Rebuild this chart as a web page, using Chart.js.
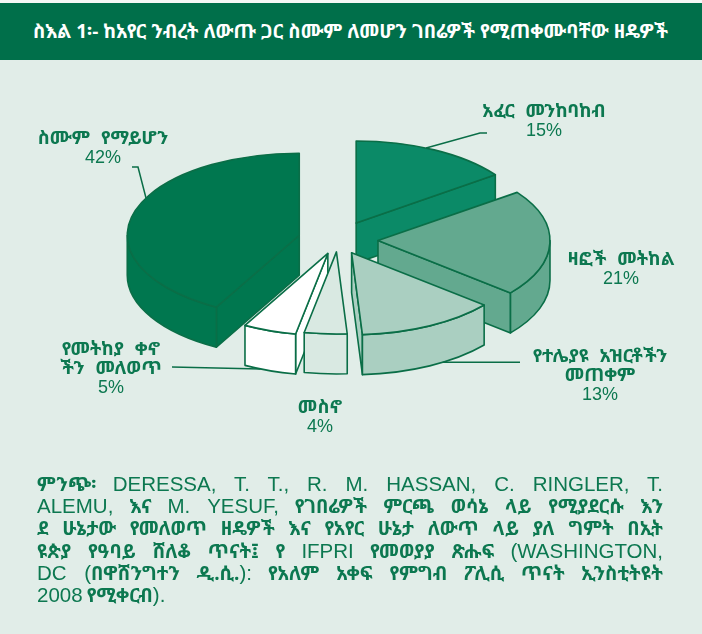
<!DOCTYPE html>
<html>
<head>
<meta charset="utf-8">
<script src="https://cdn.jsdelivr.net/npm/chart.js@4.4.1/dist/chart.umd.min.js"></script>
<style>
  html, body { margin: 0; padding: 0; }
  body { width: 702px; height: 634px; background: #e1ede8; position: relative; overflow: hidden;
         font-family: "Noto Sans Ethiopic", "Abyssinica SIL", "DejaVu Sans", "Liberation Sans", sans-serif; }
  #topline { position: absolute; left: 0; top: 0; width: 702px; height: 3px; background: #f4f8f6; }
  #title { position: absolute; left: 0; top: 3px; width: 702px; height: 57px; background: #006f4a; }
  #titletext { position: absolute; left: 33px; top: 0; color: #ffffff; font-weight: bold; font-size: 19px;
               line-height: 57px; white-space: nowrap; }
  #chart { position: absolute; left: 0; top: 0; }
  #source { position: absolute; left: 37px; top: 473px; width: 626px; color: #0c7850; }
  #source div { height: 22.2px; line-height: 22.2px; text-align: justify; text-align-last: justify; white-space: nowrap; }
  #source div.last { text-align-last: left; }
  #source .lat { font-family: "Liberation Sans", "Noto Sans", sans-serif; font-size: 20.5px; }
  #source .eth { font-weight: bold; font-size: 19px; }
</style>
</head>
<body>
<div id="topline"></div>
<div id="title"><span id="titletext">ስእል 1፡- ከአየር ንብረት ለውጡ ጋር ስሙም ለመሆን ገበሬዎች የሚጠቀሙባቸው ዘዴዎች</span></div>
<canvas id="chart" width="702" height="634"></canvas>
<div id="source">
  <div><span class="eth">ምንጭ፡</span> <span class="lat">DERESSA, T. T., R. M. HASSAN, C. RINGLER, T.</span></div>
  <div><span class="lat">ALEMU,</span> <span class="eth">እና</span> <span class="lat">M. YESUF,</span> <span class="eth">የገበሬዎች ምርጫ ወሳኔ ላይ የሚያደርሱ እን</span></div>
  <div><span class="eth">ደ ሁኔታው የመለወጥ ዘዴዎች እና የአየር ሁኔታ ለውጥ ላይ ያለ ግምት በኢት</span></div>
  <div><span class="eth">ዩጵያ የዓባይ ሸለቆ ጥናት፤ የ</span> <span class="lat">IFPRI</span> <span class="eth">የመወያያ ጽሑፍ</span> <span class="lat">(WASHINGTON,</span></div>
  <div><span class="lat">DC (</span><span class="eth">በዋሸንግተን ዲ.ሲ.</span><span class="lat">):</span> <span class="eth">የአለም አቀፍ የምግብ ፖሊሲ ጥናት ኢንስቲትዩት</span></div>
  <div class="last"><span class="lat">2008</span> <span class="eth">የሚቀርብ</span><span class="lat">).</span></div>
</div>
<script>
// ---- data ----
const categories = ["አፈር መንከባከብ", "ዛፎች መትከል", "የተሌያዩ አዝርቶችን|መጠቀም", "መስኖ", "የመትከያ ቀኖ|ችን መለወጥ", "ስሙም የማይሆን"];
const values = [15, 21, 13, 4, 5, 42];
const sliceColors = ["#0b8a67", "#63a98f", "#aacfc1", "#d9e9e2", "#ffffff", "#00774f"];

// ---- styling / layout ----
const EDGE = "#0a6e47";
const TEXT = "#0c7850";
const K = 0.477;      // vertical flattening of the 3D pie
const DEPTH = 40;     // extrusion height in px
const EXPLODE = [40, 40, 30, 25, 30, 40];
// label anchor (text centre); leader: [angle deg on slice, dz, elbow points, horizontalTo]
const LABELS = [
  { x: 544, y: 112, leader: { a: -66, dz: 0, pts: [[480, 133], [487, 133]] } },
  { x: 621, y: 260, leader: null },
  { x: 600, y: 357, leader: { a: 58, dz: 40, hTo: 520 } },
  { x: 320, y: 408, leader: null },
  { x: 111, y: 350, leader: { a: 113, dz: 40, pts: [[172, 367]] } },
  { x: 103, y: 139, leader: { a: 207, dz: 0, pts: [[138, 167], [132, 167]] } }
];
const LINE_H = 18.5;

// fit the title to the width of the reference banner
(function () {
  const t = document.getElementById('titletext');
  const target = 635;
  const n = t.textContent.length;
  const w = t.getBoundingClientRect().width;
  t.style.letterSpacing = ((target - w) / n) + 'px';
})();

function geom(a, i) {
  const p = a.getProps(['x', 'y', 'startAngle', 'endAngle', 'outerRadius'], true);
  const h = (p.startAngle + p.endAngle) / 2;
  const t = EXPLODE[i];
  return { ...p, h, ox: Math.cos(h) * t, oy: Math.sin(h) * t * K };
}
function pt(g, th, dz) {
  return [g.x + g.ox + g.outerRadius * Math.cos(th), g.y + g.oy + g.outerRadius * Math.sin(th) * K + dz];
}

const pie3d = {
  id: 'pie3d',
  beforeDatasetsDraw(chart) {
    const ctx = chart.ctx;
    const arcs = chart.getDatasetMeta(0).data;
    const order = arcs.map((a, i) => i).sort((p, q) => Math.sin(geom(arcs[p], p).h) - Math.sin(geom(arcs[q], q).h));
    for (const i of order) {
      const a = arcs[i];
      const g = geom(a, i);
      const s = g.startAngle, e = g.endAngle, r = g.outerRadius;
      const cx = g.x + g.ox, cy = g.y + g.oy;
      ctx.save();
      ctx.fillStyle = a.options.backgroundColor;
      ctx.strokeStyle = EDGE;
      ctx.lineWidth = 1.6;
      ctx.lineJoin = 'round';
      const quad = (th) => {
        const p0 = pt(g, th, 0), p1 = pt(g, th, DEPTH);
        ctx.beginPath();
        ctx.moveTo(cx, cy); ctx.lineTo(p0[0], p0[1]); ctx.lineTo(p1[0], p1[1]); ctx.lineTo(cx, cy + DEPTH);
        ctx.closePath(); ctx.fill(); ctx.stroke();
      };
      if (Math.cos(s) < -1e-6) quad(s);
      if (Math.cos(e) > 1e-6) quad(e);
      const a0 = Math.max(s, 0), a1 = Math.min(e, Math.PI);
      if (a1 > a0) {
        ctx.beginPath();
        ctx.ellipse(cx, cy, r, r * K, 0, a0, a1);
        const p1 = pt(g, a1, DEPTH);
        ctx.lineTo(p1[0], p1[1]);
        ctx.ellipse(cx, cy + DEPTH, r, r * K, 0, a1, a0, true);
        ctx.closePath(); ctx.fill(); ctx.stroke();
      }
      // top face, drawn by the arc element itself
      ctx.save();
      ctx.translate(g.ox, g.oy);
      ctx.translate(0, g.y); ctx.scale(1, K); ctx.translate(0, -g.y);
      a.draw(ctx);
      ctx.restore();
      ctx.beginPath();
      ctx.moveTo(cx, cy);
      ctx.ellipse(cx, cy, r, r * K, 0, s, e);
      ctx.closePath();
      ctx.stroke();
      ctx.restore();
    }
    return false;
  },
  afterDraw(chart) {
    const ctx = chart.ctx;
    const arcs = chart.getDatasetMeta(0).data;
    const labels = chart.data.labels;
    const vals = chart.data.datasets[0].data;
    ctx.save();
    ctx.strokeStyle = EDGE; ctx.lineWidth = 1.5; ctx.fillStyle = TEXT;
    ctx.textAlign = 'center'; ctx.textBaseline = 'middle';
    LABELS.forEach((L, i) => {
      if (L.leader) {
        const g = geom(arcs[i], i);
        const p = pt(g, L.leader.a * Math.PI / 180, L.leader.dz);
        ctx.beginPath(); ctx.moveTo(p[0], p[1]);
        if (L.leader.pts) L.leader.pts.forEach(q => ctx.lineTo(q[0], q[1]));
        if (L.leader.hTo) ctx.lineTo(L.leader.hTo, p[1]);
        ctx.stroke();
      }
      const lines = labels[i].split('|');
      ctx.font = 'bold 18.5px "Noto Sans Ethiopic", "Abyssinica SIL", "DejaVu Sans", sans-serif';
      if ('wordSpacing' in ctx) ctx.wordSpacing = '6px';
      lines.forEach((ln, j) => ctx.fillText(ln, L.x, L.y + j * LINE_H));
      if ('wordSpacing' in ctx) ctx.wordSpacing = '0px';
      ctx.font = '18px "Liberation Sans", sans-serif';
      ctx.fillText(vals[i] + '%', L.x, L.y + lines.length * LINE_H + 1);
    });
    ctx.restore();
  }
};

new Chart(document.getElementById('chart'), {
  type: 'pie',
  data: {
    labels: categories,
    datasets: [{ data: values, backgroundColor: sliceColors, borderWidth: 0 }]
  },
  options: {
    responsive: false,
    animation: false,
    devicePixelRatio: 1,
    radius: 172,
    layout: { padding: { left: 0, right: 26, top: 0, bottom: 154 } },
    plugins: { legend: { display: false }, tooltip: { enabled: false } }
  },
  plugins: [pie3d]
});
</script>
</body>
</html>
